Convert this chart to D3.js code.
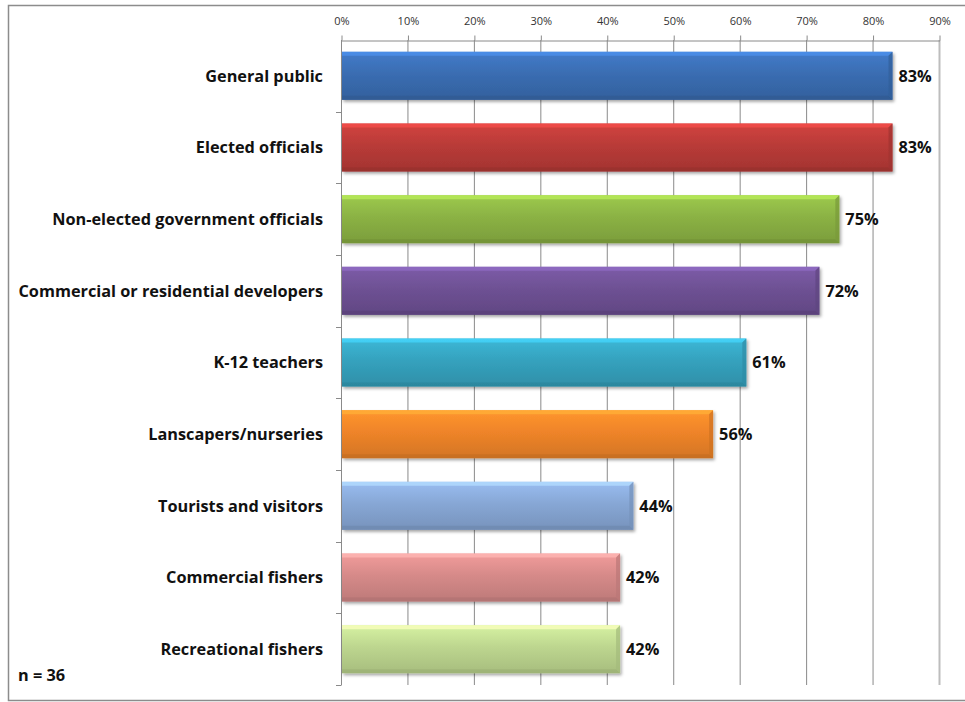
<!DOCTYPE html>
<html>
<head>
<meta charset="utf-8">
<script src="https://cdn.jsdelivr.net/npm/d3@7/dist/d3.min.js"></script>
<style>
  html, body { margin: 0; padding: 0; background: #fff; }
  svg { display: block; font-family: "Open Sans", Lato, sans-serif; }
</style>
</head>
<body>
<svg id="chart" width="965" height="702"></svg>
<script>
// Audience groups and share of respondents (%)
const categories = [
  "General public",
  "Elected officials",
  "Non-elected government officials",
  "Commercial or residential developers",
  "K-12 teachers",
  "Lanscapers/nurseries",
  "Tourists and visitors",
  "Commercial fishers",
  "Recreational fishers"
];
const values = [83, 83, 75, 72, 61, 56, 44, 42, 42];
const barColors = ["#3a6db2", "#b93b38", "#8bb244", "#6e5194", "#35a2be",
                   "#ef8429", "#87a7d5", "#d68a89", "#bdd68f"];
const tickValues = [0, 10, 20, 30, 40, 50, 60, 70, 80, 90];
const sampleNote = "n = 36";

const svg = d3.select("#chart");
const margin = { left: 341, right: 26, top: 40, bottom: 17 };
const W = 965, H = 702;
const labelSize = 16.3;

const x = d3.scaleLinear().domain([0, 90]).range([margin.left, W - margin.right]);
const y = d3.scaleBand().domain(categories)
  .range([margin.top, H - margin.bottom])
  .paddingInner(0.33).paddingOuter(0.165);

// outer frame
svg.append("path")
  .attr("d", `M${W + 2},5.5 H8.5 V700.5 H${W + 2}`)
  .attr("fill", "none").attr("stroke", "#8c8c8c").attr("stroke-width", 1.5);

const defs = svg.append("defs");
const shadow = defs.append("filter").attr("id", "shadow")
  .attr("x", "-5%").attr("y", "-20%").attr("width", "115%").attr("height", "150%");
shadow.append("feDropShadow").attr("dx", 1.5).attr("dy", 2).attr("stdDeviation", 1.5)
  .attr("flood-color", "#000").attr("flood-opacity", 0.35);

barColors.forEach((c, i) => {
  const g = defs.append("linearGradient").attr("id", "grad" + i)
    .attr("x1", 0).attr("y1", 0).attr("x2", 0).attr("y2", 1);
  const base = d3.color(c);
  g.append("stop").attr("offset", "0%").attr("stop-color", base.brighter(0.35));
  g.append("stop").attr("offset", "45%").attr("stop-color", base);
  g.append("stop").attr("offset", "100%").attr("stop-color", base.darker(0.35));
});

// vertical gridlines
const yTop = y.range()[0], yBot = y.range()[1];
svg.append("g").selectAll("line").data(tickValues.slice(1)).join("line")
  .attr("x1", d => x(d) + 0.5).attr("x2", d => x(d) + 0.5)
  .attr("y1", yTop).attr("y2", yBot)
  .attr("stroke", d => d === 90 ? "#bdbdbd" : "#8a8a8a")
  .attr("stroke-width", d => d === 90 ? 2 : 1);

// top axis
const xAxis = d3.axisTop(x).tickValues(tickValues).tickFormat(d => d + "%")
  .tickSizeInner(5).tickSizeOuter(0).tickPadding(11);
const gx = svg.append("g").attr("transform", `translate(0.5,${yTop + 0.5})`).call(xAxis);
gx.select(".domain").attr("stroke", "#8a8a8a");
gx.selectAll(".tick line").attr("stroke", "#8a8a8a");
gx.selectAll(".tick text").attr("font-size", 11).attr("fill", "#333")
  .attr("font-family", "\"Open Sans\", sans-serif");

// left category axis with ticks at band boundaries
const boundaries = d3.range(categories.length + 1).map(i => yTop + i * (yBot - yTop) / categories.length);
const gy = svg.append("g");
gy.append("line").attr("x1", x(0) + 0.5).attr("x2", x(0) + 0.5)
  .attr("y1", yTop).attr("y2", yBot).attr("stroke", "#8a8a8a");
gy.selectAll("line.tk").data(boundaries.slice(1)).join("line").attr("class", "tk")
  .attr("x1", x(0) - 5).attr("x2", x(0) + 0.5)
  .attr("y1", d => Math.round(d) + 0.5).attr("y2", d => Math.round(d) + 0.5)
  .attr("stroke", "#8a8a8a");

// bars with bevelled edges
const bev = 4;
const bars = svg.append("g").selectAll("g").data(categories).join("g")
  .attr("filter", "url(#shadow)");
bars.each(function (cat, i) {
  const g = d3.select(this);
  const x0 = x(0) + 1, x1 = x(values[i]), y0 = y(cat), h = y.bandwidth(), y1 = y0 + h;
  const base = d3.color(barColors[i]);
  g.append("rect").attr("x", x0).attr("y", y0).attr("width", x1 - x0).attr("height", h)
    .attr("fill", `url(#grad${i})`);
  g.append("polygon")
    .attr("points", [[x0, y0], [x1, y0], [x1 - bev, y0 + bev], [x0, y0 + bev]].join(" "))
    .attr("fill", base.brighter(0.8)).attr("opacity", 0.75);
  g.append("polygon")
    .attr("points", [[x0, y1], [x1, y1], [x1 - bev, y1 - bev], [x0, y1 - bev]].join(" "))
    .attr("fill", base.darker(0.6)).attr("opacity", 0.6);
  g.append("polygon")
    .attr("points", [[x1, y0], [x1, y1], [x1 - bev, y1 - bev], [x1 - bev, y0 + bev]].join(" "))
    .attr("fill", base.darker(0.4)).attr("opacity", 0.7);
});

// value labels
svg.append("g").selectAll("text").data(categories).join("text")
  .attr("x", (d, i) => x(values[i]) + 6)
  .attr("y", d => y(d) + y.bandwidth() / 2)
  .attr("dy", "0.36em")
  .attr("font-size", labelSize).attr("font-weight", "bold").attr("fill", "#111")
  .text((d, i) => values[i] + "%");

// category labels
svg.append("g").selectAll("text").data(categories).join("text")
  .attr("x", 323)
  .attr("y", d => y(d) + y.bandwidth() / 2)
  .attr("dy", "0.36em")
  .attr("text-anchor", "end")
  .attr("font-size", labelSize).attr("font-weight", "bold").attr("fill", "#111")
  .text(d => d);

// sample size note
svg.append("text").attr("x", 18).attr("y", 675).attr("dy", "0.36em")
  .attr("font-size", labelSize).attr("font-weight", "bold").attr("fill", "#111")
  .text(sampleNote);
</script>
</body>
</html>
